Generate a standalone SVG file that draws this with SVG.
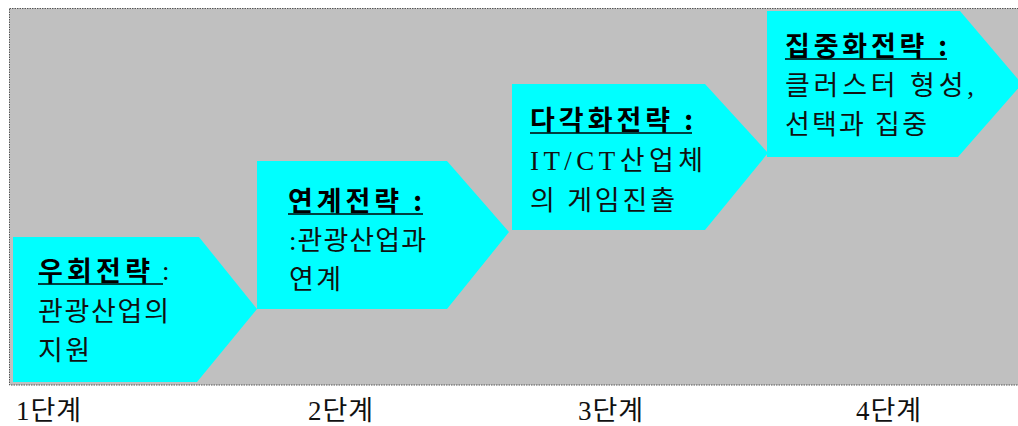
<svg xmlns="http://www.w3.org/2000/svg" width="1018" height="426" viewBox="0 0 1018 426">
<style>
.bg{fill:#c0c0c0;stroke:#555;stroke-width:1;stroke-dasharray:1.5 1}
.arr{fill:#00ffff;stroke:none}
.t{font-family:"Liberation Serif","Noto Sans CJK KR",serif;font-size:27px;fill:#111}
.h{font-family:"Noto Sans CJK KR",sans-serif;font-size:27px;font-weight:bold;fill:#000}
.u{stroke:#000;stroke-width:1.5}
.s{font-family:"Liberation Serif","Noto Sans CJK KR",serif;font-size:27px;fill:#111}
</style>
<rect class="bg" x="9.5" y="8.5" width="1012" height="376.5"/>
<g id="step1">
<polygon class="arr" points="13,237 199,237 257,309 197,382 13,382"/>
<text class="h" x="38" y="281" textLength="112" lengthAdjust="spacing">우회전략</text>
<line class="u" x1="38" y1="284" x2="163" y2="284"/>
<text class="t" x="162" y="280">:</text>
<text class="t" x="38" y="321" textLength="131" lengthAdjust="spacing">관광산업의</text>
<text class="t" x="38" y="360" textLength="52" lengthAdjust="spacing">지원</text>
</g>
<g id="step2">
<polygon class="arr" points="257,161 447,161 509,232 447,309 257,309"/>
<text class="h" x="288" y="211" textLength="134" lengthAdjust="spacing">연계전략 :</text>
<line class="u" x1="288" y1="214" x2="423" y2="214"/>
<text class="t" x="289" y="250" textLength="137" lengthAdjust="spacing">:관광산업과</text>
<text class="t" x="289" y="289" textLength="52" lengthAdjust="spacing">연계</text>
</g>
<g id="step3">
<polygon class="arr" points="512,84 705,84 768,153 705,230 512,230"/>
<text class="h" x="530" y="130" textLength="163" lengthAdjust="spacing">다각화전략 :</text>
<line class="u" x1="530" y1="133" x2="692" y2="133"/>
<text class="t" x="530" y="170" textLength="173" lengthAdjust="spacing">IT/CT산업체</text>
<text class="t" x="530" y="210" textLength="145" lengthAdjust="spacing">의 게임진출</text>
</g>
<g id="step4">
<polygon class="arr" points="767,11 960,11 1022,84 958,157 767,157"/>
<text class="h" x="785" y="56" textLength="162" lengthAdjust="spacing">집중화전략 :</text>
<line class="u" x1="785" y1="59" x2="947" y2="59"/>
<text class="t" x="785" y="95" textLength="189" lengthAdjust="spacing">클러스터  형성,</text>
<text class="t" x="785" y="134" textLength="142" lengthAdjust="spacing">선택과 집중</text>
</g>
<g id="labels">
<text class="s" x="16" y="420" textLength="65" lengthAdjust="spacing">1단계</text>
<text class="s" x="308" y="420" textLength="65" lengthAdjust="spacing">2단계</text>
<text class="s" x="578" y="420" textLength="65" lengthAdjust="spacing">3단계</text>
<text class="s" x="856" y="420" textLength="65" lengthAdjust="spacing">4단계</text>
</g>
<g id="connectors"/>
</svg>
